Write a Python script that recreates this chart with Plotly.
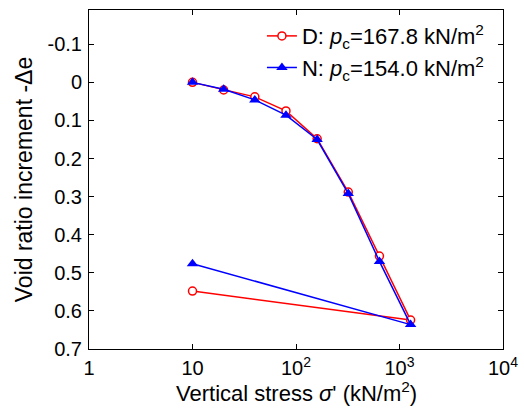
import plotly.graph_objects as go

stress = [10, 20, 40, 80, 160, 320, 640, 1280, 10]
de_D = [0.0, 0.020, 0.038, 0.075, 0.148, 0.288, 0.456, 0.624, 0.548]
de_N = [0.0, 0.018, 0.046, 0.086, 0.150, 0.292, 0.470, 0.636, 0.476]

x_tickvals = [1, 10, 100, 1000, 10000]
x_ticktext = ["1", "10", "10<sup>2</sup>", "10<sup>3</sup>", "10<sup>4</sup>"]
y_tickvals = [-0.1, 0, 0.1, 0.2, 0.3, 0.4, 0.5, 0.6, 0.7]
y_ticktext = ["-0.1", "0", "0.1", "0.2", "0.3", "0.4", "0.5", "0.6", "0.7"]

FONT = "Liberation Sans, Arial, sans-serif"

fig = go.Figure()
fig.add_trace(go.Scatter(
    x=stress, y=de_D, mode="lines+markers",
    name="D: <i>p</i><sub>c</sub>=167.8 kN/m<sup>2</sup>",
    line=dict(color="#ff0000", width=1.5),
    marker=dict(symbol="circle", size=8, color="white",
                line=dict(color="#ff0000", width=1.5)),
))
fig.add_trace(go.Scatter(
    x=stress, y=de_N, mode="lines+markers",
    name="N: <i>p</i><sub>c</sub>=154.0 kN/m<sup>2</sup>",
    line=dict(color="#0000ff", width=1.5),
    marker=dict(symbol="triangle-up", size=10, color="#0000ff",
                line=dict(color="#0000ff", width=0)),
))

axis_common = dict(
    showline=True, linecolor="black", linewidth=1, mirror="ticks",
    ticks="inside", ticklen=5, tickcolor="black", tickwidth=1,
    showgrid=False, zeroline=False, automargin=False,
    tickfont=dict(family=FONT, size=20, color="black"),
)

fig.update_xaxes(
    type="log", range=[0, 4],
    tickvals=x_tickvals, ticktext=x_ticktext,
    ticklabelstandoff=1,
    **axis_common,
)
fig.update_yaxes(
    range=[0.7, -0.19],
    tickvals=y_tickvals, ticktext=y_ticktext,
    ticklabelstandoff=2,
    title=dict(text="Void ratio increment -Δe",
               font=dict(family=FONT, size=23, color="black"), standoff=8),
    **axis_common,
)

fig.add_annotation(
    text="Vertical stress <i>σ</i>' (kN/m<sup>2</sup>)",
    xref="paper", yref="paper", x=0.5, y=-0.127,
    xanchor="center", yanchor="middle", showarrow=False,
    font=dict(family=FONT, size=22, color="black"),
)

fig.update_layout(
    width=524, height=412,
    margin=dict(l=89, r=21, t=10, b=63),
    plot_bgcolor="white", paper_bgcolor="white",
    legend=dict(x=0.966, xanchor="right", y=0.985, yanchor="top",
                bgcolor="rgba(0,0,0,0)", tracegroupgap=0, itemwidth=30,
                font=dict(family=FONT, size=22, color="black")),
)

fig.write_html("out.html", config={"displayModeBar": False},
               post_script="document.body.style.margin='0';")
